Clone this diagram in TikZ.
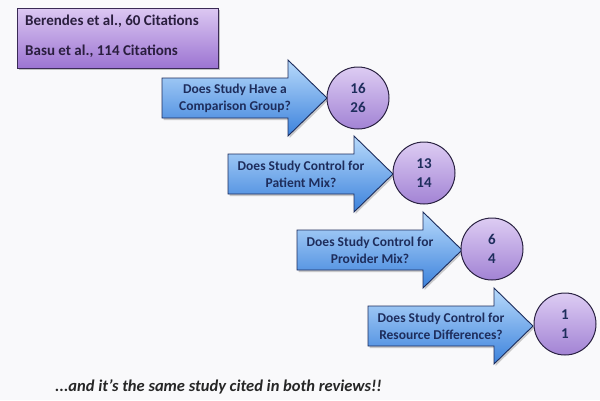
\documentclass[tikz,border=0pt]{standalone}
\usepackage{fontspec}
\setmainfont{Carlito}
\usetikzlibrary{shadows}
\definecolor{bg}{HTML}{F9F9FB}
\definecolor{boxtop}{HTML}{DCC8F2}
\definecolor{boxbot}{HTML}{9C74D2}
\definecolor{boxline}{HTML}{3A2A55}
\definecolor{arrtop}{HTML}{B8DAFB}
\definecolor{arrbot}{HTML}{3C82DC}
\definecolor{arrline}{HTML}{1C2C5C}
\definecolor{circtop}{HTML}{DDCCF3}
\definecolor{circbot}{HTML}{A283D4}
\definecolor{circline}{HTML}{2A2242}
\definecolor{navytext}{HTML}{1E2D5C}
\definecolor{darktext}{HTML}{2A1E3E}
\tikzset{
  citebox/.style={draw=boxline, line width=1pt, top color=boxtop, bottom color=boxbot,
    drop shadow={shadow xshift=1.5pt, shadow yshift=-2pt, opacity=0.45}},
  citetext/.style={anchor=west, text=darktext, font=\fontsize{15}{18}\selectfont\bfseries, inner sep=0pt},
  qarrowstyle/.style={draw=arrline, line width=0.9pt, top color=arrtop, bottom color=arrbot,
    drop shadow={shadow xshift=1.5pt, shadow yshift=-2pt, opacity=0.4}},
  qtext/.style={text=navytext, align=center, font=\fontsize{13.5}{17}\selectfont\bfseries, inner sep=0pt},
  numcirc/.style={circle, draw=circline, line width=1pt, top color=circtop, bottom color=circbot,
    minimum size=62pt, inner sep=0pt, align=center, text=navytext,
    font=\fontsize{15}{19}\selectfont\bfseries},
  notetext/.style={anchor=west, text=black!85, font=\fontsize{16.5}{19}\selectfont\bfseries\itshape, inner sep=0pt}
}
\newcommand{\qarrow}[4]{%
  \draw[qarrowstyle] (#1,#2-20) -- (#1+126,#2-20) -- (#1+126,#2-38) -- (#1+165,#2)
     -- (#1+126,#2+38) -- (#1+126,#2+20) -- (#1,#2+20) -- cycle;
  \node[qtext] (#3) at (#1+73,#2) {#4};
}
\begin{document}
\begin{tikzpicture}[x=1pt,y=-1pt]
\fill[bg] (0,0) rectangle (600,400);
\useasboundingbox (0,0) rectangle (600,400);

\node[citebox, anchor=north west, minimum width=201pt, minimum height=60pt, inner sep=0pt] (cites) at (16.5,7.5) {};
\node[citetext] (berendes) at (25,21) {Berendes et al., 60 Citations};
\node[citetext] (basu) at (25,51) {Basu et al., 114 Citations};

\qarrow{162}{98}{q1}{Does Study Have a\\Comparison Group?}
\node[numcirc] (c1) at (358,98) {16\\26};

\qarrow{228}{174}{q2}{Does Study Control for\\Patient Mix?}
\node[numcirc] (c2) at (424,173) {13\\14};

\qarrow{297}{250}{q3}{Does Study Control for\\Provider Mix?}
\node[numcirc] (c3) at (492,249) {6\\4};

\qarrow{368}{326}{q4}{Does Study Control for\\Resource Differences?}
\node[numcirc] (c4) at (565,324) {1\\1};

\node[notetext] (note) at (55,387) {...and it’s the same study cited in both reviews!!};
\end{tikzpicture}
\end{document}
